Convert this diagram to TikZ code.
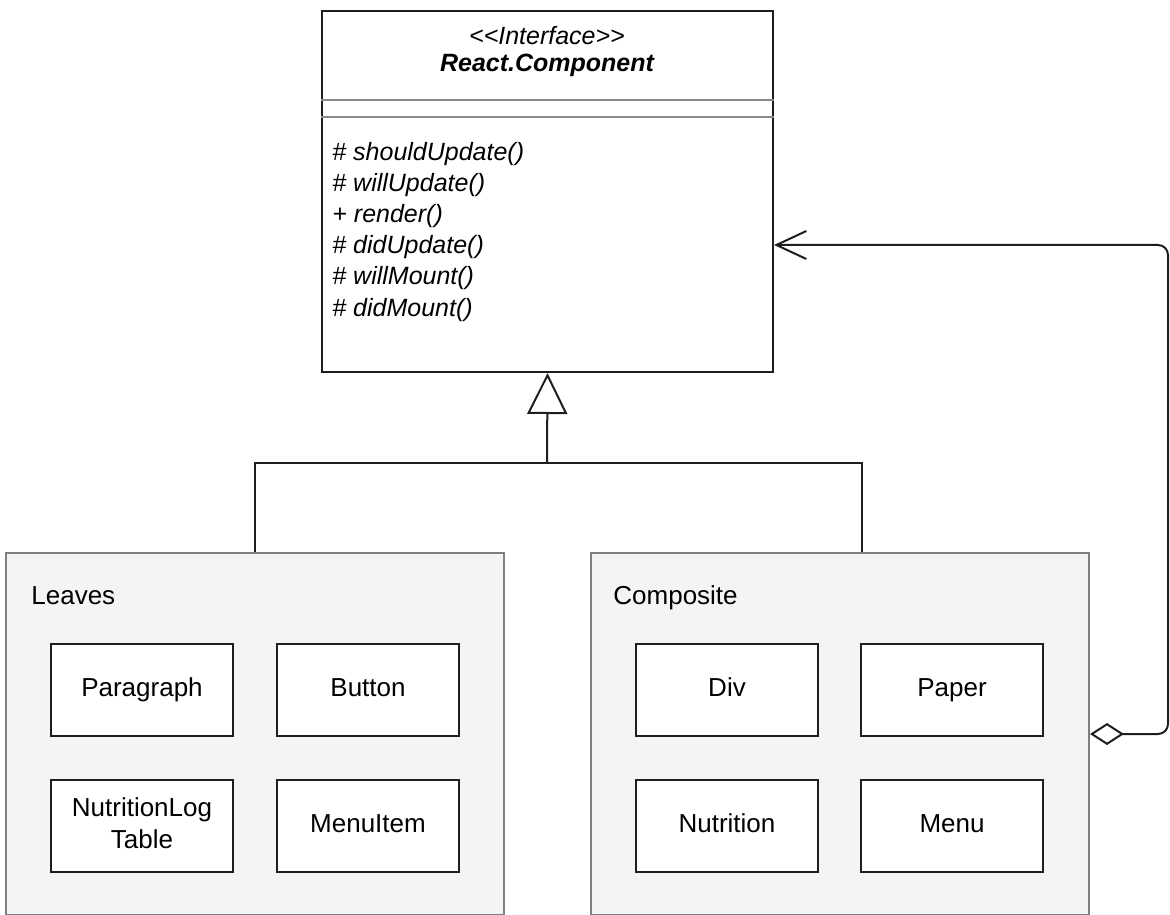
\documentclass[tikz,border=0pt]{standalone}
\usepackage{fontspec}
\setmainfont{Liberation Sans}
\usetikzlibrary{arrows.meta,calc}
\definecolor{panelfill}{HTML}{F4F4F4}
\definecolor{panelline}{HTML}{7F7F7F}
\definecolor{inkline}{HTML}{1E1E1E}
\definecolor{rulegray}{HTML}{8A8A8A}
\begin{document}
\begin{tikzpicture}[x=0.5pt,y=-0.5pt,
  classbox/.style={draw=inkline,line width=1pt,fill=white,inner sep=0pt,
    minimum width=225.5pt,minimum height=180.5pt},
  panel/.style={draw=panelline,line width=1pt,fill=panelfill,inner sep=0pt,
    minimum width=249pt,minimum height=181pt},
  item/.style={draw=inkline,line width=1pt,fill=white,inner sep=0pt,
    minimum width=91pt,minimum height=46pt,align=center,
    font=\fontsize{13pt}{16pt}\selectfont},
  member/.style={inner sep=0pt,anchor=base west,
    font=\fontsize{12.5pt}{15pt}\selectfont\itshape},
  title/.style={inner sep=0pt,anchor=base,
    font=\fontsize{12.5pt}{15pt}\selectfont\itshape},
  grouplabel/.style={inner sep=0pt,anchor=base west,
    font=\fontsize{13pt}{16pt}\selectfont},
  divider/.style={draw=rulegray,line width=0.8pt},
  conn/.style={draw=inkline,line width=1pt}]

\useasboundingbox (0,0) rectangle (1170,914);
\clip (0,0) rectangle (1170,914);

% interface class
\node[classbox] (top) at (547.5,191.5) {};
\draw[divider] (top.west |- 0,100) -- (top.east |- 0,100);
\draw[divider] (top.west |- 0,117) -- (top.east |- 0,117);
\node[title] (stereo) at (547,45) {{<}{<}Interface{>}{>}};
\node[title,font=\fontsize{12.5pt}{15pt}\selectfont\bfseries\itshape] (name) at (547,72) {React.Component};
\node[member] (m1) at (332,161) {\# shouldUpdate()};
\node[member] (m2) at (332,192) {\# willUpdate()};
\node[member] (m3) at (332,223) {+ render()};
\node[member] (m4) at (332,254) {\# didUpdate()};
\node[member] (m5) at (332,285) {\# willMount()};
\node[member] (m6) at (332,316) {\# didMount()};

% groups
\node[panel] (leaves) at (255,734) {};
\node[panel] (comp) at (840,734) {};
\node[grouplabel] (leaveslbl) at (31,604) {Leaves};
\node[grouplabel] (complbl) at (613,604) {Composite};

\node[item] (para) at (142,690) {\strut Paragraph};
\node[item] (button) at (368,690) {\strut Button};
\node[item] (nlt) at (142,826) {\strut NutritionLog\\\strut Table};
\node[item] (menuitem) at (368,826) {\strut MenuItem};

\node[item] (div) at (727,690) {\strut Div};
\node[item] (paper) at (952,690) {\strut Paper};
\node[item] (nutrition) at (727,826) {\strut Nutrition};
\node[item] (menu) at (952,826) {\strut Menu};

% generalisation
\coordinate (bus) at (547,463);
\coordinate (cjoin) at (comp.north -| 862,0);
\draw[conn] (leaves.north) |- (bus) -| (cjoin);
\draw[conn,-{Triangle[open,length=20.5pt,width=20pt]}] (bus) -- (top.south);

% aggregation back to the interface
\coordinate (rtarget) at (top.east |- 0,245);
\draw[conn,rounded corners=5pt,
  {Diamond[open,length=17pt,width=11pt]}-{Straight Barb[length=15pt,width=14pt]}]
  (comp.east) -- (comp.east -| 1168,0) -- (1168,245) -- (rtarget);
\end{tikzpicture}
\end{document}
